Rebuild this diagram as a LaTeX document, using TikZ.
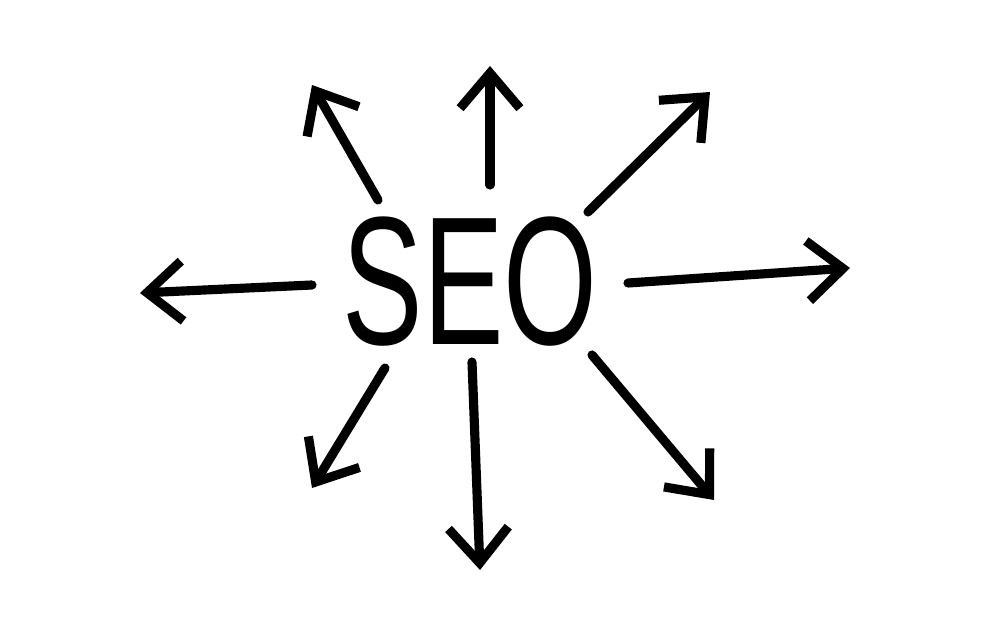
\documentclass[tikz,border=0pt]{standalone}
\usepackage{fontspec}
\setmainfont{Liberation Sans}
\usetikzlibrary{arrows.meta}
\tikzset{
  seotext/.style = {inner sep=0, anchor=base, xscale=0.66, font=\fontsize{52}{52}\selectfont},
  ray/.style = {line width=2.6pt, line cap=round, line join=round,
    -{Straight Barb[length=10pt, width=17pt, line width=2.6pt]}},
}

\begin{document}
\begin{tikzpicture}[x=0.01cm, y=-0.01cm]
        \useasboundingbox (0,0) rectangle (1000,619);
        \node (seo) [seotext] at (470,345) {SEO};
        % rays going out from the word
        \foreach \X/\ax/\ay/\bx/\by in {
          nw/378/200/312/85,
          n/490/185/490/66,
          ne/588/212/710/92,
          e/628/283/850/268,
          se/592/355/714/500,
          s/472/362/480/570,
          sw/385/368/312/488,
          w/312/285/140/293%
        }{
          \coordinate (tail\X) at (\ax,\ay);
          \coordinate (tip\X) at (\bx,\by);
          \draw [ray] (tail\X) -- (tip\X);
        }
      \end{tikzpicture}
\end{document}
